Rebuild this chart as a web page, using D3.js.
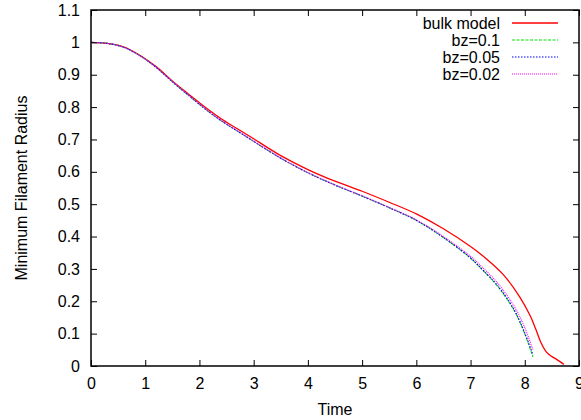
<!DOCTYPE html>
<html>
<head>
<meta charset="utf-8">
<script src="https://cdn.jsdelivr.net/npm/d3@7"></script>
<style>
  body { margin: 0; background: #fff; }
  text { font-family: "Liberation Sans", Arial, sans-serif; fill: #000; }
</style>
</head>
<body>
<script>
var width = 581, height = 420;
var margin = {top: 10, right: 2, bottom: 54, left: 91};

// data
var bulkTime = [0, 0.3, 0.6, 0.9, 1.2, 1.5, 1.8, 2.1, 2.4, 2.7, 3.0, 3.5, 4.0, 4.5, 5.0, 5.5, 6.0, 6.5, 7.0, 7.3, 7.6, 7.9, 8.1, 8.2, 8.3, 8.4, 8.5, 8.6, 8.72];
var bulkRadius = [1.0, 0.997, 0.986, 0.960, 0.925, 0.881, 0.840, 0.800, 0.764, 0.733, 0.702, 0.650, 0.607, 0.571, 0.540, 0.506, 0.470, 0.424, 0.369, 0.330, 0.283, 0.215, 0.155, 0.115, 0.072, 0.043, 0.029, 0.019, 0.005];

var bzTime = [0, 0.3, 0.6, 0.9, 1.2, 1.5, 1.8, 2.1, 2.4, 2.7, 3.0, 3.5, 4.0, 4.5, 5.0, 5.5, 6.0, 6.5, 7.0, 7.2, 7.5, 7.8, 8.0, 8.15];
var bz01Radius = [1.0, 0.997, 0.985, 0.959, 0.923, 0.878, 0.836, 0.795, 0.758, 0.726, 0.694, 0.642, 0.597, 0.559, 0.525, 0.489, 0.450, 0.397, 0.333, 0.300, 0.246, 0.172, 0.099, 0.028];
var bz005Radius = [1.0, 0.997, 0.985, 0.959, 0.923, 0.878, 0.836, 0.795, 0.758, 0.726, 0.694, 0.642, 0.597, 0.559, 0.525, 0.489, 0.450, 0.397, 0.334, 0.301, 0.248, 0.175, 0.102, 0.034];
var bz002Radius = [1.0, 0.997, 0.985, 0.959, 0.923, 0.879, 0.837, 0.796, 0.759, 0.727, 0.695, 0.643, 0.598, 0.560, 0.526, 0.490, 0.452, 0.400, 0.339, 0.308, 0.256, 0.186, 0.118, 0.050];

var seriesNames = ["bulk model", "bz=0.1", "bz=0.05", "bz=0.02"];
var seriesColors = ["#ff0000", "#00e000", "#0000ff", "#ff00ff"];
var seriesDash = [null, "3,1.5", "1.5,1.5", "1,1"];

var xTicks = [0, 1, 2, 3, 4, 5, 6, 7, 8, 9];
var yTicks = [0, 0.1, 0.2, 0.3, 0.4, 0.5, 0.6, 0.7, 0.8, 0.9, 1, 1.1];

var series = [
  {x: bulkTime, y: bulkRadius},
  {x: bzTime, y: bz01Radius},
  {x: bzTime, y: bz005Radius},
  {x: bzTime, y: bz002Radius}
];

var svg = d3.select("body").append("svg")
    .attr("width", width)
    .attr("height", height);

var x = d3.scaleLinear().domain([0, 9]).range([margin.left, width - margin.right]);
var y = d3.scaleLinear().domain([0, 1.1]).range([height - margin.bottom, margin.top]);

var line = d3.line()
    .x(function(d) { return x(d[0]); })
    .y(function(d) { return y(d[1]); })
    .curve(d3.curveCatmullRom.alpha(0.5));

// curves
series.forEach(function(s, i) {
  var pts = s.x.map(function(t, j) { return [t, s.y[j]]; });
  svg.append("path")
      .attr("d", line(pts))
      .style("fill", "none")
      .style("stroke", seriesColors[i])
      .style("stroke-width", i == 0 ? 1.3 : 1.1)
      .style("stroke-dasharray", seriesDash[i]);
});

// axes with inward ticks, mirrored
var fs = 16;
var fmt = d3.format("~g");
svg.append("g")
    .attr("transform", "translate(0," + y(0) + ")")
    .call(d3.axisBottom(x).tickValues(xTicks).tickSizeInner(-6).tickSizeOuter(0).tickPadding(12).tickFormat(fmt))
    .call(function(g) {
      g.select(".domain").remove();
      g.selectAll("text").style("font-size", fs + "px").style("font-family", "Liberation Sans, Arial, sans-serif");
    });
svg.append("g")
    .attr("transform", "translate(0," + y(1.1) + ")")
    .call(d3.axisTop(x).tickValues(xTicks).tickSizeInner(-6).tickSizeOuter(0).tickFormat(""))
    .call(function(g) { g.select(".domain").remove(); });
svg.append("g")
    .attr("transform", "translate(" + x(0) + ",0)")
    .call(d3.axisLeft(y).tickValues(yTicks).tickSizeInner(-6).tickSizeOuter(0).tickPadding(11).tickFormat(fmt))
    .call(function(g) {
      g.select(".domain").remove();
      g.selectAll("text").style("font-size", fs + "px").style("font-family", "Liberation Sans, Arial, sans-serif");
    });
svg.append("g")
    .attr("transform", "translate(" + x(9) + ",0)")
    .call(d3.axisRight(y).tickValues(yTicks).tickSizeInner(-6).tickSizeOuter(0).tickFormat(""))
    .call(function(g) { g.select(".domain").remove(); });

svg.selectAll(".tick line").style("stroke", "#000").style("stroke-width", 1);

// frame
svg.append("rect")
    .attr("x", x(0))
    .attr("y", y(1.1))
    .attr("width", x(9) - x(0))
    .attr("height", y(0) - y(1.1))
    .style("fill", "none")
    .style("stroke", "#000")
    .style("stroke-width", 1.5);

// axis titles
svg.append("text")
    .attr("x", (x(0) + x(9)) / 2)
    .attr("y", 415)
    .attr("text-anchor", "middle")
    .style("font-size", fs + "px")
    .text("Time");
svg.append("text")
    .attr("transform", "translate(27," + ((y(0) + y(1.1)) / 2) + ") rotate(-90)")
    .attr("text-anchor", "middle")
    .style("font-size", fs + "px")
    .text("Minimum Filament Radius");

// legend
var legend = svg.append("g");
seriesNames.forEach(function(name, i) {
  var ly = 23 + i * 17;
  legend.append("text")
      .attr("x", 500)
      .attr("y", ly)
      .attr("dy", "0.35em")
      .attr("text-anchor", "end")
      .style("font-size", fs + "px")
      .text(name);
  legend.append("line")
      .attr("x1", 512).attr("x2", 558)
      .attr("y1", ly).attr("y2", ly)
      .style("stroke", seriesColors[i])
      .style("stroke-width", i == 0 ? 1.3 : 1.1)
      .style("stroke-dasharray", seriesDash[i]);
});
</script>
</body>
</html>
